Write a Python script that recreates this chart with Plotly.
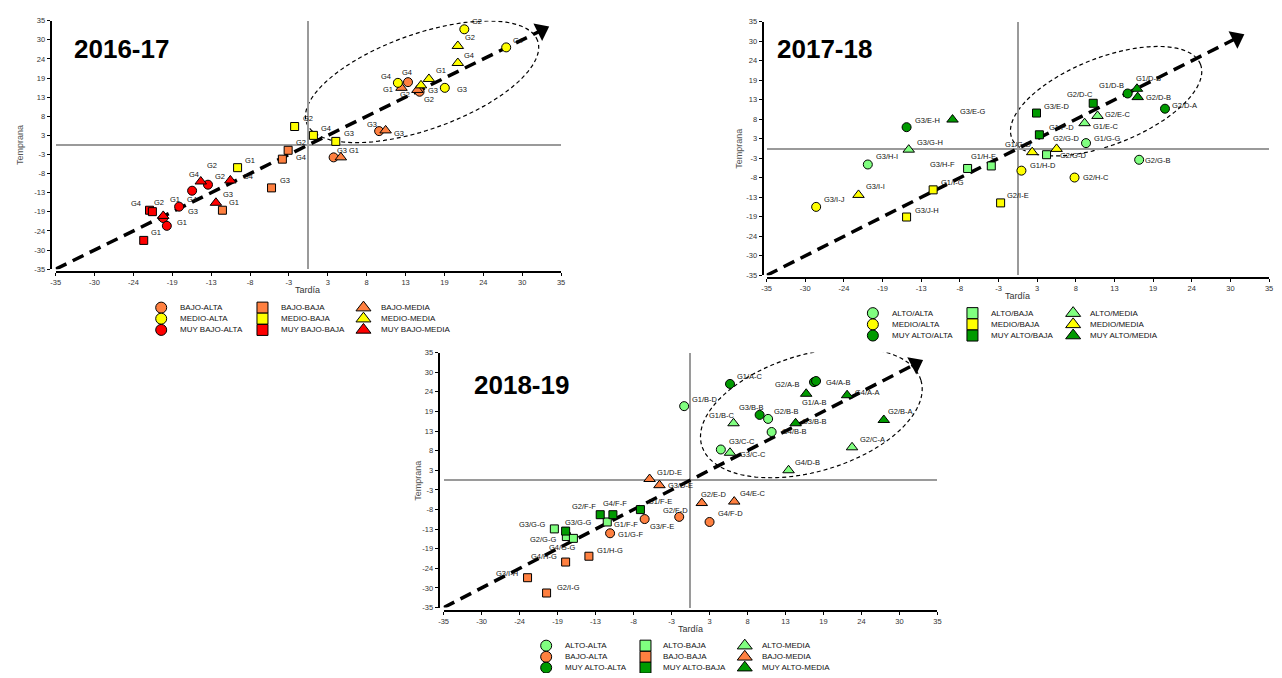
import math
import numpy as np
import plotly.graph_objects as go

W, H = 1282, 678
FONT = "Arial, 'Liberation Sans', sans-serif"

# ---------------- shared axis ticks ----------------
tick_text = ["-35", "-30", "-24", "-19", "-13", "-8", "-3", "3", "8", "13", "19", "24", "30", "35"]
tick_vals = np.linspace(-35, 35, len(tick_text))
kinds = ["ALTA", "BAJA", "MEDIA"]

# ---------------- 2016-17 ----------------
p1_labels = ["G1", "G4", "G2", "G4", "G3", "G1", "G1", "G4", "G2", "G2", "G4", "G1", "G3", "G1", "G3", "G4", "G2", "G2",
             "G4", "G3", "G3", "G1", "G3", "G3", "G4", "G4", "G1", "G2", "G2", "G3", "G1", "G3", "G4", "G2", "G2", "G4"]
p1_x = [-22.8, -22.0, -21.6, -20.1, -20.1, -19.6, -17.9, -16.1, -14.9, -13.9, -10.8, -9.8, -12.8, -11.9, -5.1, -3.6,
        -2.8, -1.9, 0.7, 3.8, 3.5, 4.5, 9.8, 10.7, 12.4, 13.8, 12.9, 15.1, 15.4, 15.6, 16.7, 18.9, 20.7, 20.7, 21.6, 27.4]
p1_y = [-26.9, -18.4, -18.8, -20.0, -20.6, -22.8, -17.4, -12.9, -10.3, -11.2, -10.0, -6.4, -16.3, -18.4, -12.1, -4.0,
        -1.5, 5.2, 2.7, 1.0, -3.5, -3.5, 3.9, 4.1, 17.5, 17.7, 16.1, 15.5, 15.0, 16.8, 18.6, 16.1, 23.1, 27.9, 32.6, 27.5]
p1_level = ["MUY BAJO"] * 11 + ["MEDIO", "MUY BAJO", "BAJO", "BAJO", "BAJO", "BAJO", "MEDIO", "MEDIO", "MEDIO",
                                "BAJO", "BAJO", "BAJO", "BAJO", "MEDIO", "BAJO", "BAJO", "BAJO", "BAJO", "MEDIO",
                                "MEDIO", "MEDIO", "MEDIO", "MEDIO", "MEDIO", "MEDIO"]
p1_kind = ["BAJA", "BAJA", "BAJA", "MEDIA", "ALTA", "ALTA", "ALTA", "ALTA", "MEDIA", "ALTA", "MEDIA", "BAJA", "MEDIA",
           "BAJA", "BAJA", "BAJA", "BAJA", "BAJA", "BAJA", "BAJA", "ALTA", "MEDIA", "ALTA", "MEDIA", "ALTA", "ALTA",
           "MEDIA", "MEDIA", "ALTA", "MEDIA", "MEDIA", "ALTA", "MEDIA", "MEDIA", "ALTA", "ALTA"]
p1_levels = ["BAJO", "MEDIO", "MUY BAJO"]

# ---------------- 2017-18 ----------------
p2_labels = ["G3/I-J", "G3/I-I", "G3/H-I", "G3/G-H", "G3/E-H", "G3/E-G", "G3/H-F", "G1/H-E", "G1/I-G", "G3/J-H",
             "G2/I-E", "G1/H-D", "G2/H-C", "G2/G-B", "G1/G-G", "G1/G-D", "G2/G-D", "G2/G-D", "G1/F-D", "G3/E-D",
             "G1/E-C", "G2/E-C", "G2/D-C", "G1/D-B", "G1/D-B", "G2/D-B", "G2/D-A"]
p2_x = [-28.1, -22.2, -20.9, -15.2, -15.5, -9.1, -7.0, -3.7, -11.8, -15.5, -2.4, 0.5, 7.9, 16.9, 9.5, 2.0, 4.0, 5.4,
        3.0, 2.6, 9.3, 11.1, 10.5, 15.3, 16.6, 16.7, 20.5]
p2_y = [-16.1, -12.8, -4.4, -0.3, 5.9, 8.0, -5.5, -4.8, -11.4, -18.9, -15.0, -6.1, -8.0, -3.1, 1.5, -1.0, -1.7, -0.1,
        3.8, 9.8, 7.0, 9.0, 12.5, 15.2, 16.5, 14.2, 11.0]
p2_level = ["MEDIO", "MEDIO", "ALTO", "ALTO", "MUY ALTO", "MUY ALTO", "ALTO", "ALTO", "MEDIO", "MEDIO", "MEDIO",
            "MEDIO", "MEDIO", "ALTO", "ALTO", "MEDIO", "ALTO", "MEDIO", "MUY ALTO", "MUY ALTO", "ALTO", "ALTO",
            "MUY ALTO", "MUY ALTO", "MUY ALTO", "MUY ALTO", "MUY ALTO"]
p2_kind = ["ALTA", "MEDIA", "ALTA", "MEDIA", "ALTA", "MEDIA", "BAJA", "BAJA", "BAJA", "BAJA", "BAJA", "ALTA", "ALTA",
           "ALTA", "ALTA", "MEDIA", "BAJA", "MEDIA", "BAJA", "BAJA", "MEDIA", "MEDIA", "BAJA", "ALTA", "MEDIA", "MEDIA",
           "ALTA"]
p2_levels = ["ALTO", "MEDIO", "MUY ALTO"]

# ---------------- 2018-19 ----------------
p3_labels = ["G1/B-D", "G1/D-E", "G3/D-E", "G2/F-F", "G4/F-F", "G1/F-E", "G1/F-F", "G3/F-E", "G2/F-D", "G1/G-F",
             "G3/G-G", "G3/G-G", "G4/G-G", "G2/G-G", "G1/H-G", "G4/H-G", "G3/I-H", "G2/I-G", "G2/E-D", "G4/E-C",
             "G4/F-D", "G1/A-C", "G1/B-C", "G3/B-B", "G2/B-B", "G4/B-B", "G3/B-B", "G3/C-C", "G3/C-C", "G4/D-B",
             "G2/C-A", "G2/B-A", "G4/A-A", "G1/A-B", "G2/A-B", "G4/A-B"]
p3_x = [-0.9, -5.8, -4.4, -12.8, -11.0, -7.1, -11.8, -6.5, -1.6, -11.4, -19.3, -17.7, -17.6, -16.6, -14.4, -17.7,
        -23.1, -20.4, 1.6, 6.2, 2.7, 5.6, 6.1, 9.8, 11.0, 11.5, 14.9, 4.3, 5.6, 13.9, 22.9, 27.4, 22.2, 16.4, 17.5, 17.8]
p3_y = [20.3, 0.3, -1.4, -9.5, -9.5, -8.1, -11.5, -10.7, -10.1, -14.6, -13.4, -14.0, -15.5, -16.0, -20.9, -22.5,
        -26.8, -31.0, -6.3, -5.9, -11.5, 26.4, 15.6, 17.9, 16.8, 13.2, 15.6, 8.4, 7.5, 2.7, 9.0, 16.5, 23.3, 23.7, 26.9,
        27.2]
p3_level = ["ALTO", "BAJO", "BAJO", "MUY ALTO", "MUY ALTO", "MUY ALTO", "ALTO", "BAJO", "BAJO", "BAJO", "ALTO",
            "MUY ALTO", "ALTO", "ALTO", "BAJO", "BAJO", "BAJO", "BAJO", "BAJO", "BAJO", "BAJO", "MUY ALTO", "ALTO",
            "MUY ALTO", "ALTO", "ALTO", "MUY ALTO", "ALTO", "ALTO", "ALTO", "ALTO", "MUY ALTO", "MUY ALTO", "MUY ALTO",
            "MUY ALTO", "MUY ALTO"]
p3_kind = ["ALTA", "MEDIA", "MEDIA", "BAJA", "BAJA", "BAJA", "BAJA", "ALTA", "ALTA", "ALTA", "BAJA", "BAJA", "BAJA",
           "BAJA", "BAJA", "BAJA", "BAJA", "BAJA", "MEDIA", "MEDIA", "ALTA", "ALTA", "MEDIA", "ALTA", "ALTA", "ALTA",
           "MEDIA", "ALTA", "MEDIA", "MEDIA", "MEDIA", "MEDIA", "MEDIA", "MEDIA", "ALTA", "ALTA"]
p3_levels = ["ALTO", "BAJO", "MUY ALTO"]

# ---------------- styling (label offsets in px, colours, geometry) ----------------
p1_dx = [12, -14, 7, 29, 30, 15, -4, 2, 11, 12, 18, 12, 12, 12, 13, 19, 13, 13, 13, 13, 8, 13, -7, 13, -12, -1, -14,
         -12, 9, 12, 12, 17, 11, 12, 13, 12]
p1_dy = [8, 7, 9, 16, 7, 3, 7, 16, 16, 8, 4, 7, 8, 8, 7, 2, 8, 8, 7, 8, 7, 7, 7, -3, 6, 10, -2, -5, -8, -5, 8, -2, 7,
         8, 8, 7]
p2_dx = [18, 17, 19, 21, 21, 20, -25, -8, 19, 20, 17, 22, 21, 18, 21, -14, 26, 9, 22, 20, 21, 20, -13, -16, 12, 21, 20]
p2_dy = [7, 8, 8, 7, 7, 8, 4, 9, 7, 7, 7, 5, 0, -1, 5, 8, -1, 10, 7, 7, -3, 1, 9, 8, 10, 0, 3]
p3_dx = [21, 20, 21, -16, 2, 20, 19, 17, -4, 20, -22, 12, -4, -30, 21, -22, -21, 22, 12, 19, 21, 20, -12, -8, 18, 23,
         19, 21, 23, 19, 20, 17, 20, 8, -26, 22]
p3_dy = [7, 7, 0, 8, 11, 8, -3, -7, 6, -1, 4, 9, -11, -1, 6, 6, 4, 6, 9, 8, 8, 7, 8, 7, 7, 1, 2, 8, -2, 8, 8, 8, 3,
         -9, -2, -1]

COLORS = {"BAJO": "#ff8040", "MEDIO": "#ffff00", "MUY BAJO": "#ff0000",
          "ALTO": "#80ff80", "MUY ALTO": "#009a00"}
SYMBOLS = {"ALTA": "circle", "BAJA": "square", "MEDIA": "triangle-up"}
SIZES = {"ALTA": 9, "BAJA": 8, "MEDIA": 10}
LEG_SIZES = {"ALTA": 11, "BAJA": 11, "MEDIA": 13}

panels = [
    dict(title="2016-17", labels=p1_labels, x=p1_x, y=p1_y, level=p1_level, kind=p1_kind, dx=p1_dx, dy=p1_dy,
         levels=p1_levels, sep="-",
         box=(51, 560, 17, 268.7), yline=46, xline=272,
         ell_c=(15.75, 17.8), ell_a=(16.0, 11.57), ell_b=(-2.24, 12.65), arrow_end=32.3,
         title_xy=(117, 46), tardia_xy=(305, 290), temprana_xy=(15, 143),
         leg_cols=(157.3, 259.3, 361), leg_text=(174.3, 276, 376.7), leg_rows=(307.7, 318.9, 330.3)),
    dict(title="2017-18", labels=p2_labels, x=p2_x, y=p2_y, level=p2_level, kind=p2_kind, dx=p2_dx, dy=p2_dy,
         levels=p2_levels, sep="/",
         box=(767, 1273, 18, 275), yline=763, xline=277.7,
         ell_c=(12.3, 13.07), ell_a=(13.14, 10.21), ell_b=(-2.23, 11.15), arrow_end=30.5,
         title_xy=(825, 46), tardia_xy=(1020, 296), temprana_xy=(739, 147),
         leg_cols=(874, 974.3, 1075.7), leg_text=(891.7, 991, 1091), leg_rows=(313.3, 324.7, 336)),
    dict(title="2018-19", labels=p3_labels, x=p3_x, y=p3_y, level=p3_level, kind=p3_kind, dx=p3_dx, dy=p3_dy,
         levels=p3_levels, sep="-",
         box=(441.7, 939, 353.3, 611.7), yline=436.7, xline=615,
         ell_c=(17.13, 18.44), ell_a=(15.53, 9.01), ell_b=(-2.41, 15.35), arrow_end=31.9,
         title_xy=(520, 386.5), tardia_xy=(690, 633), temprana_xy=(416, 483),
         leg_cols=(545, 645, 745), leg_text=(561.7, 660.7, 760.7), leg_rows=(650.3, 661.6, 672.6)),
]

fig = go.Figure()
layout = dict(width=W, height=H, autosize=False, margin=dict(l=0, r=0, t=0, b=0, pad=0),
              paper_bgcolor="white", plot_bgcolor="rgba(0,0,0,0)", showlegend=False,
              font=dict(family=FONT, color="#222"))
annotations, shapes = [], []

for i, p in enumerate(panels):
    sfx = "" if i == 0 else str(i + 1)
    xr, yr = "x" + sfx, "y" + sfx
    x0, x1, yt, yb = p["box"]
    axis_common = dict(range=[-35, 35], tickvals=tick_vals, ticktext=tick_text, showgrid=False,
                       zeroline=True, zerolinecolor="#9a9a9a", zerolinewidth=1.5,
                       showline=True, linecolor="black", linewidth=2, ticks="outside", ticklen=3,
                       tickwidth=1, tickcolor="black", tickfont=dict(size=7.5, color="#333", family=FONT),
                       fixedrange=True)
    layout["xaxis" + sfx] = dict(axis_common, domain=[x0 / W, x1 / W], anchor="free", position=1 - p["xline"] / H)
    layout["yaxis" + sfx] = dict(axis_common, domain=[1 - yb / H, 1 - yt / H], anchor="free", position=p["yline"] / W)

    # dashed trend arrow
    e = p["arrow_end"]
    fig.add_trace(go.Scatter(x=[-35, e], y=[-35, e], mode="lines", xaxis=xr, yaxis=yr, hoverinfo="skip",
                             line=dict(color="black", width=3.5, dash="12px,7px")))

    # ellipse (dashed)
    t = np.linspace(0, 2 * np.pi, 121)
    cx, cy = p["ell_c"]
    ax_, ay_ = p["ell_a"]
    bx_, by_ = p["ell_b"]
    ex = cx + np.cos(t) * ax_ + np.sin(t) * bx_
    ey = cy + np.cos(t) * ay_ + np.sin(t) * by_
    path = "M " + " L ".join(f"{a:.3f},{b:.3f}" for a, b in zip(ex, ey)) + " Z"
    shapes.append(dict(type="path", path=path, xref=xr, yref=yr, layer="below",
                       line=dict(color="black", width=1.2, dash="4px,3px")))

    # data markers grouped by level and kind
    for lev in p["levels"]:
        for k in kinds:
            idx = [j for j in range(len(p["x"])) if p["level"][j] == lev and p["kind"][j] == k]
            if not idx:
                continue
            fig.add_trace(go.Scatter(
                x=[p["x"][j] for j in idx], y=[p["y"][j] for j in idx], mode="markers",
                xaxis=xr, yaxis=yr, name=f"{lev}{p['sep']}{k}",
                marker=dict(symbol=SYMBOLS[k], size=SIZES[k], color=COLORS[lev], opacity=1,
                            line=dict(color="black", width=1))))

    # arrow head
    pxu = (x1 - x0) / 70.0
    pyu = (yb - yt) / 70.0
    ang = math.degrees(math.atan2((e + 35) * pyu, (e + 35) * pxu))
    fig.add_trace(go.Scatter(x=[e], y=[e], mode="markers", xaxis=xr, yaxis=yr, hoverinfo="skip",
                             marker=dict(symbol="triangle-up", size=17, color="black", angle=90 - ang, opacity=1,
                                         line=dict(width=0))))

    # point labels
    for j, lab in enumerate(p["labels"]):
        annotations.append(dict(x=p["x"][j], y=p["y"][j], xref=xr, yref=yr, text=lab, showarrow=False,
                                xshift=p["dx"][j], yshift=p["dy"][j], xanchor="center", yanchor="middle",
                                font=dict(size=7.5, color="#111", family=FONT)))

    # panel title
    tx, ty = p["title_xy"]
    annotations.append(dict(x=tx / W, y=1 - ty / H, xref="paper", yref="paper", text=p["title"], showarrow=False,
                            xanchor="center", yanchor="middle",
                            font=dict(size=26, color="black", family=FONT, weight="bold")))
    # axis titles
    ax, ay = p["tardia_xy"]
    annotations.append(dict(x=ax / W, y=1 - ay / H, xref="paper", yref="paper", text="Tardía", showarrow=False,
                            xanchor="center", yanchor="middle", font=dict(size=9, color="#333", family=FONT)))
    ax, ay = p["temprana_xy"]
    annotations.append(dict(x=ax / W, y=1 - ay / H, xref="paper", yref="paper", text="Temprana", showarrow=False,
                            xanchor="center", yanchor="middle", textangle=-90,
                            font=dict(size=9, color="#555", family=FONT)))

    # custom 3x3 legend
    lx, ly, lc, ls, lsz = [], [], [], [], []
    for ci, k in enumerate(kinds):
        for ri, lev in enumerate(p["levels"]):
            lx.append(p["leg_cols"][ci])
            ly.append(p["leg_rows"][ri])
            lc.append(COLORS[lev])
            ls.append(SYMBOLS[k])
            lsz.append(LEG_SIZES[k])
            annotations.append(dict(x=p["leg_text"][ci] / W, y=1 - p["leg_rows"][ri] / H, xref="paper",
                                    yref="paper", text=f"{lev}{p['sep']}{k}", showarrow=False,
                                    xanchor="left", yanchor="middle",
                                    font=dict(size=8, color="#111", family=FONT)))
    fig.add_trace(go.Scatter(x=lx, y=ly, mode="markers", xaxis="x4", yaxis="y4", hoverinfo="skip",
                             marker=dict(symbol=ls, size=lsz, color=lc, opacity=1,
                                         line=dict(color="black", width=1))))

layout["xaxis4"] = dict(domain=[0, 1], range=[0, W], visible=False, anchor="y4", fixedrange=True)
layout["yaxis4"] = dict(domain=[0, 1], range=[H, 0], visible=False, anchor="x4", fixedrange=True)
layout["annotations"] = annotations
layout["shapes"] = shapes
fig.update_layout(**layout)
fig.write_html("out.html", config={"displayModeBar": False},
               post_script="document.body.style.margin='0';document.body.style.padding='0';"
                           "document.body.style.overflow='hidden';")
